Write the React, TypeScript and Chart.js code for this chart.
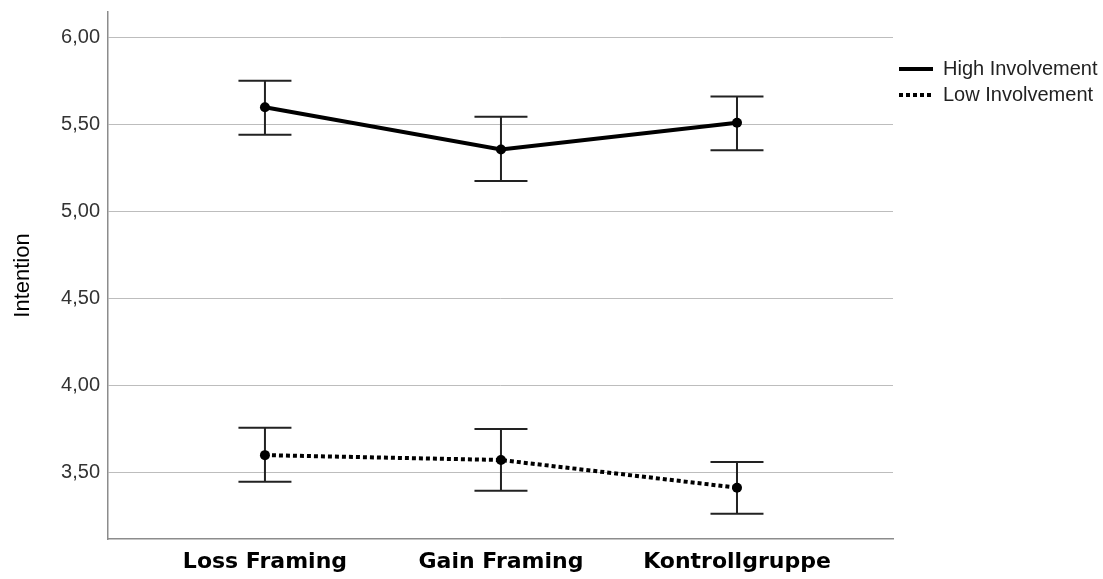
import React, { useEffect, useRef } from 'react';
import { Chart, registerables } from 'chart.js';

Chart.register(...registerables);

const categories = ['Loss Framing', 'Gain Framing', 'Kontrollgruppe'];
const categoryPositions = [1, 2, 3];
const seriesNames = ['High Involvement', 'Low Involvement'];
const highMean = [5.6, 5.357, 5.51];
const highLower = [5.441, 5.175, 5.353];
const highUpper = [5.752, 5.545, 5.662];
const lowMean = [3.6, 3.572, 3.413];
const lowLower = [3.447, 3.395, 3.263];
const lowUpper = [3.757, 3.75, 3.56];
const yTicks = [3.5, 4.0, 4.5, 5.0, 5.5, 6.0];
const yMin = 3.118;
const yMax = 6.147;
const xMin = 0.335;
const xMax = 3.661;

const FONT = '"Liberation Sans", Arial, sans-serif';
const XFONT = '"DejaVu Sans", Verdana, sans-serif';

const errorBars = [
  { lower: highLower, upper: highUpper },
  { lower: lowLower, upper: lowUpper },
];

const errorBarPlugin = {
  id: 'errorBars',
  beforeDatasetsDraw(chart: any) {
    const { ctx, scales } = chart;
    const xs = scales.x;
    const ys = scales.y;
    ctx.save();
    ctx.strokeStyle = '#222';
    ctx.lineWidth = 2;
    ctx.setLineDash([]);
    const cap = 26.5;
    errorBars.forEach((eb) => {
      categoryPositions.forEach((pos, i) => {
        const px = xs.getPixelForValue(pos);
        const pLo = ys.getPixelForValue(eb.lower[i]);
        const pHi = ys.getPixelForValue(eb.upper[i]);
        ctx.beginPath();
        ctx.moveTo(px, pLo);
        ctx.lineTo(px, pHi);
        ctx.moveTo(px - cap, pLo);
        ctx.lineTo(px + cap, pLo);
        ctx.moveTo(px - cap, pHi);
        ctx.lineTo(px + cap, pHi);
        ctx.stroke();
      });
    });
    ctx.restore();
  },
};

export default function App() {
  const ref = useRef<HTMLCanvasElement | null>(null);

  useEffect(() => {
    if (!ref.current) return;
    const toPts = (vals: number[]) => vals.map((v, i) => ({ x: categoryPositions[i], y: v }));
    const chart = new Chart(ref.current, {
      type: 'line',
      data: {
        datasets: [
          {
            label: seriesNames[0],
            data: toPts(highMean),
            borderColor: '#000',
            backgroundColor: '#000',
            borderWidth: 4,
            pointRadius: 5,
            pointBorderWidth: 0,
            pointBackgroundColor: '#000',
            tension: 0,
          },
          {
            label: seriesNames[1],
            data: toPts(lowMean),
            borderColor: '#000',
            backgroundColor: '#000',
            borderWidth: 4,
            borderDash: [4, 3],
            pointRadius: 5,
            pointBorderWidth: 0,
            pointBackgroundColor: '#000',
            tension: 0,
          },
        ],
      },
      options: {
        responsive: false,
        animation: false,
        layout: { padding: { top: 12, left: 0, right: 0, bottom: 0 } },
        plugins: {
          tooltip: { enabled: false },
          legend: {
            position: 'right',
            align: 'start',
            maxWidth: 210,
            title: {
              display: true,
              text: ' ',
              font: { size: 20, family: FONT },
              padding: { top: 17, bottom: 0 },
            },
            labels: {
              usePointStyle: true,
              pointStyle: 'line',
              pointStyleWidth: 34,
              padding: 6,
              color: '#222',
              font: { size: 20, family: FONT },
              generateLabels: (chart: any) =>
                chart.data.datasets.map((ds: any, i: number) => ({
                  text: ds.label,
                  strokeStyle: '#000',
                  fillStyle: '#000',
                  fontColor: '#222',
                  lineWidth: 4,
                  lineDash: i === 1 ? [4, 3] : [],
                  lineCap: 'butt',
                  pointStyle: 'line',
                  hidden: false,
                  datasetIndex: i,
                })),
            },
          },
        },
        scales: {
          x: {
            type: 'linear',
            min: xMin,
            max: xMax,
            afterBuildTicks: (scale: any) => {
              scale.ticks = categoryPositions.map((v) => ({ value: v }));
            },
            afterFit: (scale: any) => {
              scale.height = 40;
              scale.paddingLeft = 0;
              scale.paddingRight = 0;
            },
            grid: { display: false, drawTicks: false },
            border: { display: true, color: '#8c8c8c', width: 1.5 },
            ticks: {
              padding: 10,
              color: '#000',
              font: { size: 22, family: XFONT, weight: 'bold' },
              maxRotation: 0,
              autoSkip: false,
              callback: (v: any) => {
                const idx = categoryPositions.indexOf(Number(v));
                return idx >= 0 ? categories[idx] : '';
              },
            },
          },
          y: {
            type: 'linear',
            min: yMin,
            max: yMax,
            afterBuildTicks: (scale: any) => {
              scale.ticks = yTicks.map((v) => ({ value: v }));
            },
            afterFit: (scale: any) => {
              scale.width = 108;
              scale.paddingTop = 0;
              scale.paddingBottom = 0;
            },
            grid: { color: '#bdbdbd', lineWidth: 1, drawTicks: false },
            border: { display: true, color: '#8c8c8c', width: 1.5 },
            title: {
              display: true,
              text: 'Intention',
              color: '#000',
              font: { size: 22, family: FONT },
              padding: { top: 10, bottom: 0 },
            },
            ticks: {
              padding: 8,
              color: '#333',
              font: { size: 20, family: FONT },
              callback: (v: any) => Number(v).toFixed(2).replace('.', ','),
            },
          },
        },
      },
      plugins: [errorBarPlugin],
    } as any);
    return () => chart.destroy();
  }, []);

  return (
    <div style={{ position: 'absolute', left: 0, top: 0, width: 1103, height: 579, background: '#fff' }}>
      <canvas ref={ref} width={1103} height={579} />
    </div>
  );
}
